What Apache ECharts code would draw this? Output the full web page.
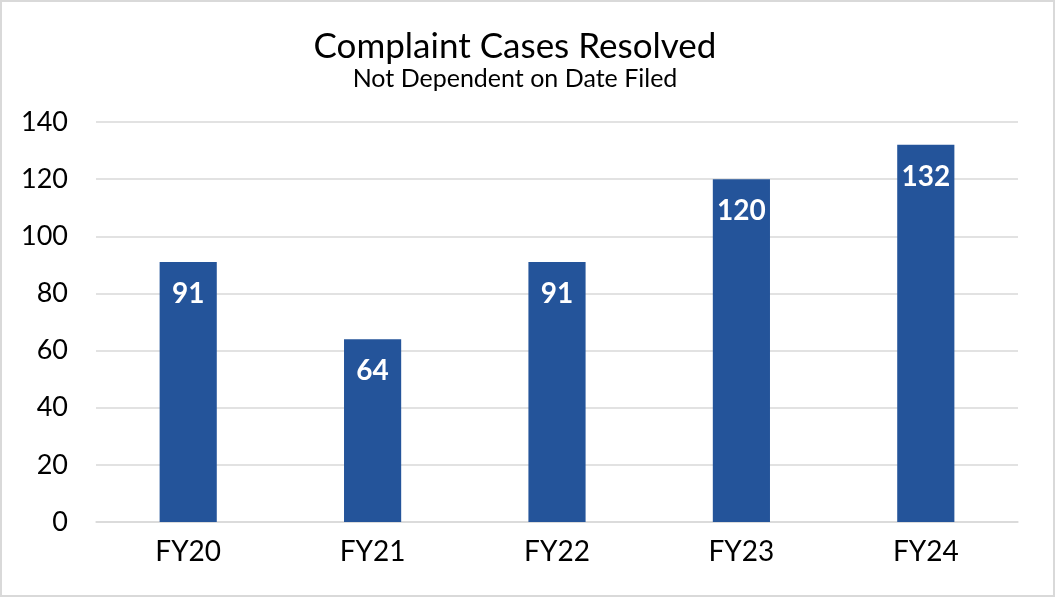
<!DOCTYPE html>
<html><head><meta charset="utf-8">
<script src="https://cdn.jsdelivr.net/npm/echarts@6/dist/echarts.min.js"></script>
<style>html,body{margin:0;padding:0;background:#fff}#c{width:1055px;height:597px;box-sizing:border-box;border:2px solid #d9d9d9}</style>
</head><body><div id="c"></div>
<script>
const categories = ["FY20","FY21","FY22","FY23","FY24"];
const resolved = [91, 64, 91, 120, 132];
const yTicks = {min:0, max:140, interval:20};
const FONT = "Lato, 'Open Sans', sans-serif";
const chart = echarts.init(document.getElementById('c'), null, {renderer:'canvas'});
chart.setOption({
  animation:false,
  title:{
    text:"Complaint Cases Resolved",
    subtext:"Not Dependent on Date Filed",
    left:508, textAlign:'center', top:22, itemGap:2,
    textStyle:{fontFamily:FONT, fontSize:35, fontWeight:'normal', color:'#000'},
    subtextStyle:{fontFamily:FONT, fontSize:25, color:'#000'}
  },
  grid:{left:94, right:35, top:120, bottom:73, containLabel:false},
  xAxis:{
    type:'category', data:categories,
    axisLine:{show:true, lineStyle:{color:'#d9d9d9', width:1.5}},
    axisTick:{show:false},
    axisLabel:{fontFamily:FONT, fontSize:28, color:'#000', margin:16}
  },
  yAxis:{
    type:'value', min:yTicks.min, max:yTicks.max, interval:yTicks.interval,
    axisLine:{show:false}, axisTick:{show:false},
    splitLine:{lineStyle:{color:'#d9d9d9', width:1.5}},
    axisLabel:{fontFamily:FONT, fontSize:27, color:'#000', margin:28}
  },
  series:[{
    type:'bar', data:resolved, barWidth:'31%',
    itemStyle:{color:'#24549a'},
    label:{show:true, position:'insideTop', distance:18, color:'#fff',
      fontFamily:FONT, fontWeight:'bold', fontSize:28}
  }]
});
</script></body></html>
